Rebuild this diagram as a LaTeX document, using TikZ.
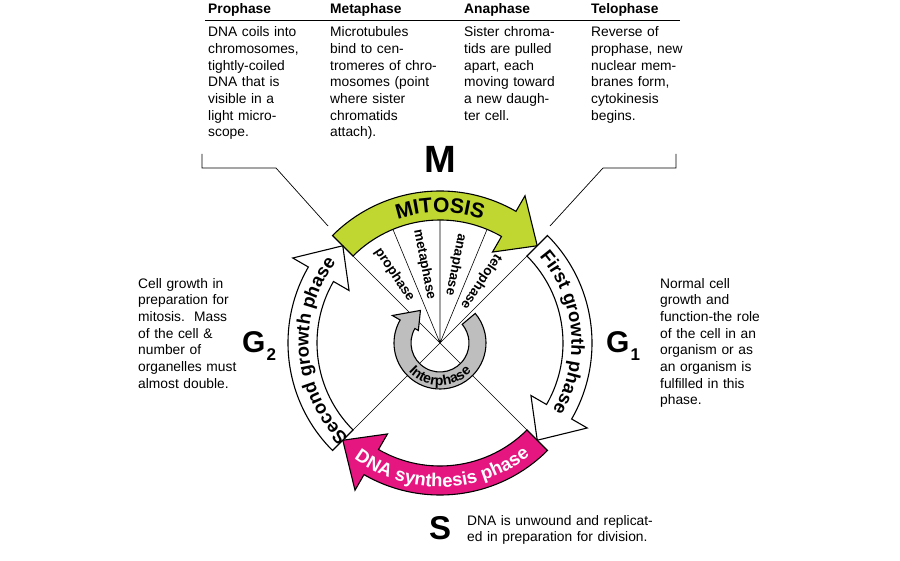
\documentclass[tikz,border=0pt]{standalone}
\usepackage{fontspec}
\setmainfont{Liberation Sans}
\usepackage{tikz}
\usetikzlibrary{decorations.text}
\definecolor{mitgreen}{RGB}{191,215,48}
\definecolor{synmagenta}{RGB}{229,22,128}
\definecolor{intgray}{RGB}{190,190,190}
\newcommand\ringfont{\fontsize{18.5}{18.5}\selectfont\bfseries}
\newcommand\mitfont{\fontsize{21}{21}\selectfont\bfseries}
\newcommand\interfont{\fontsize{14}{14}\selectfont\bfseries}
\tikzset{
  ring/.style={draw=black,line width=1.1pt},
  spoke/.style={black,line width=0.6pt},
  leader/.style={black,line width=0.7pt},
  rule/.style={black,line width=0.9pt},
  head/.style={font=\fontsize{13.8}{16.67}\selectfont\bfseries,anchor=base west,inner sep=0pt},
  body/.style={font=\fontsize{13.8}{16.67}\selectfont,anchor=base west,inner sep=0pt,
               align=left,text width=150pt},
  phase/.style={font=\fontsize{13.5}{13.5}\selectfont\bfseries,inner sep=0pt},
  bigletter/.style={font=\fontsize{30}{30}\selectfont\bfseries,anchor=base west,inner sep=0pt},
}

\begin{document}
\begin{tikzpicture}[x=1pt,y=1pt]
  \path[use as bounding box,fill=white] (0,0) rectangle (900,560);

  % stage table
  \node[head] (PRO) at (208,546) {Prophase};
  \node[head] (MET) at (330,546) {Metaphase};
  \node[head] (ANA) at (464,546) {Anaphase};
  \node[head] (TEL) at (591,546) {Telophase};
  \coordinate (RULEL) at (205,539.3);
  \coordinate (RULER) at (680,539.3);
  \draw[rule] (RULEL) -- (RULER);

  \node[body] (PROTXT) at (208,523.3)
    {DNA coils into\\chromosomes,\\tightly-coiled\\DNA that is\\visible in a\\light micro-\\scope.};
  \node[body] (METTXT) at (330,523.3)
    {Microtubules\\bind to cen-\\tromeres of chro-\\mosomes (point\\where sister\\chromatids\\attach).};
  \node[body] (ANATXT) at (464,523.3)
    {Sister chroma-\\tids are pulled\\apart, each\\moving toward\\a new daugh-\\ter cell.};
  \node[body] (TELTXT) at (591,523.3)
    {Reverse of\\prophase, new\\nuclear mem-\\branes form,\\cytokinesis\\begins.};

  % bracket leaders
  \coordinate (BRLA) at (202,406);
  \coordinate (BRLB) at (202,392);
  \coordinate (BRLC) at (276,392);
  \coordinate (BRLD) at (328,334);
  \draw[leader] (BRLA) -- (BRLB) -- (BRLC) -- (BRLD);
  \coordinate (BRRA) at (676,406);
  \coordinate (BRRB) at (676,392);
  \coordinate (BRRC) at (603,392);
  \coordinate (BRRD) at (550,334);
  \draw[leader] (BRRA) -- (BRRB) -- (BRRC) -- (BRRD);

  % phase letters and notes
  \node[font=\fontsize{38}{38}\selectfont\bfseries,anchor=base,inner sep=0pt] (MLAB) at (440.5,387) {M};
  \node[bigletter] (GTWO) at (242,207) {G\kern1pt\raisebox{-7.5pt}{\fontsize{17}{17}\selectfont 2}};
  \node[bigletter] (GONE) at (606,207) {G\kern1pt\raisebox{-7.5pt}{\fontsize{17}{17}\selectfont 1}};
  \node[bigletter,font=\fontsize{33}{33}\selectfont\bfseries] (SLAB) at (429,21) {S};

  \node[body] (GTWOTXT) at (138,271.7)
    {Cell growth in\\preparation for\\mitosis.\ \ Mass\\of the cell \&\\number of\\organelles must\\almost double.};
  \node[body] (GONETXT) at (660,271.7)
    {Normal cell\\growth and\\function-the role\\of the cell in an\\organism or as\\an organism is\\fulfilled in this\\phase.};
  \node[body,text width=240pt] (STXT) at (467,35)
    {DNA is unwound and replicat-\\ed in preparation for division.};

  % cycle wheel
  \coordinate (CTR) at (440,217);
  \begin{scope}[shift={(CTR)}]
    \draw[spoke] (0,0) -- (135:123) (0,0) -- (112.5:123) (0,0) -- (90:123)
      (0,0) -- (67.5:123) (0,0) -- (45:123) (0,0) -- (-45:123) (0,0) -- (-135:123);

    \draw[ring,fill=mitgreen] (135:152) arc[start angle=135,end angle=60,radius=152]
      -- (60:170) -- (45:137.5) -- (60:105) -- (60:123)
      arc[start angle=60,end angle=135,radius=123] -- cycle;
    \draw[ring,fill=white] (45:152) arc[start angle=45,end angle=-30,radius=152]
      -- (-30:170) -- (-45:137.5) -- (-30:105) -- (-30:123)
      arc[start angle=-30,end angle=45,radius=123] -- cycle;
    \draw[ring,fill=synmagenta] (-45:152) arc[start angle=-45,end angle=-120,radius=152]
      -- (-120:170) -- (-135:137.5) -- (-120:105) -- (-120:123)
      arc[start angle=-120,end angle=-45,radius=123] -- cycle;
    \draw[ring,fill=white] (225:152) arc[start angle=225,end angle=150,radius=152]
      -- (150:170) -- (135:137.5) -- (150:105) -- (150:123)
      arc[start angle=150,end angle=225,radius=123] -- cycle;

    \draw[ring,fill=intgray] (40:46) arc[start angle=40,end angle=-210,radius=46]
      -- (-210:55) -- (-239:38) -- (-210:25) -- (-210:29)
      arc[start angle=-210,end angle=40,radius=29] -- cycle;

    \path[decorate,decoration={text along path,text={|\mitfont|MITOSIS},text align=center}]
      (125:130.5) arc[start angle=125,end angle=55,radius=130.5];
    \path[decorate,decoration={text along path,text={|\ringfont|First growth phase},text align=center}]
      (45:131.5) arc[start angle=45,end angle=-35,radius=131.5];
    \path[decorate,decoration={text along path,text={|\ringfont|Second growth phase},text align=center}]
      (225:131.5) arc[start angle=225,end angle=143,radius=131.5];
    \path[decorate,decoration={text along path,text={|\ringfont|DNA synthesis phase},
      text color=white,text align=center}]
      (-130:144) arc[start angle=-130,end angle=-48,radius=144];
    \path[decorate,decoration={text along path,text={|\interfont|Interphase},text align=center}]
      (-150:42.5) arc[start angle=-150,end angle=-30,radius=42.5];

    \node[phase,rotate=-56.25] (PROLAB) at (123.75:82) {prophase};
    \node[phase,rotate=-78.75] (METLAB) at (101.25:80) {metaphase};
    \node[phase,rotate=-101.25] (ANALAB) at (78.75:80) {anaphase};
    \node[phase,rotate=-123.75] (TELLAB) at (56.25:74) {telophase};
  \end{scope}
\end{tikzpicture}
\end{document}
